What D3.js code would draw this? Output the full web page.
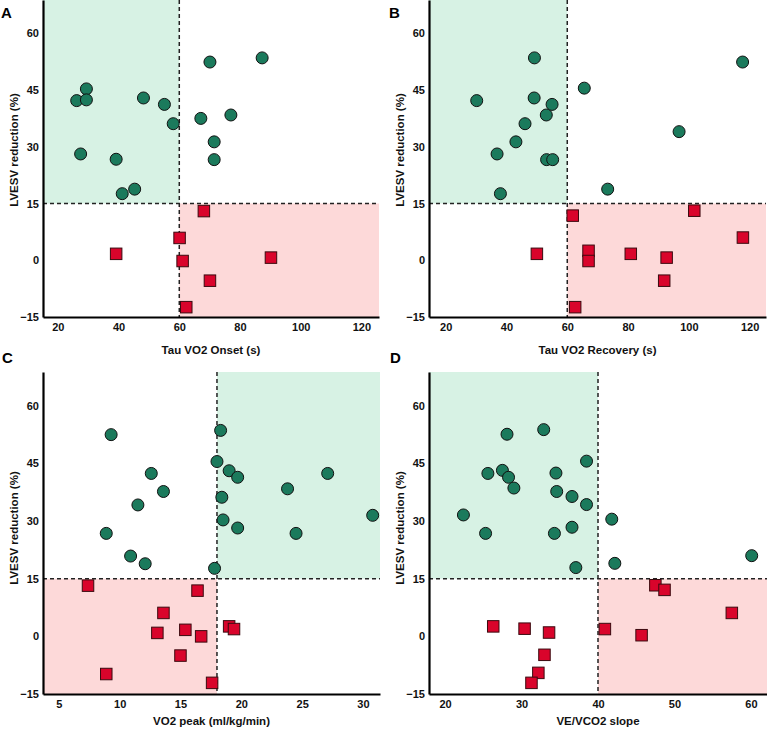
<!DOCTYPE html>
<html>
<head>
<meta charset="utf-8">
<script src="https://cdn.jsdelivr.net/npm/d3@7"></script>
<style>
  html, body { margin: 0; padding: 0; background: #fff; }
  svg { display: block; font-family: "Liberation Sans", Arial, sans-serif; }
</style>
</head>
<body>
<svg id="chart" width="767" height="730"></svg>
<script>
// ---------------- DATA ----------------
const yTicks = [-15, 0, 15, 30, 45, 60];
const yTitle = "LVESV reduction (%)";

// Panel A: Tau VO2 Onset
const aXTicks = [20, 40, 60, 80, 100, 120];
const aCircles = [[26.2,42.2],[29.4,45.3],[29.4,42.4],[27.5,28.1],[39.2,26.7],[41.2,17.6],[45.3,18.8],[48.2,42.9],[55.1,41.2],[58.0,36.1],[70.1,52.4],[87.3,53.5],[67.1,37.5],[77.0,38.4],[71.5,31.3],[71.5,26.6]];
const aSquares = [[39.2,1.7],[60.1,5.9],[61.1,-0.2],[68.1,13.0],[70.1,-5.4],[62.3,-12.4],[90.2,0.7]];

// Panel B: Tau VO2 Recovery
const bXTicks = [20, 40, 60, 80, 100, 120];
const bCircles = [[30.2,42.2],[36.9,28.1],[38.0,17.6],[43.1,31.3],[46.1,36.1],[49.2,53.5],[49.1,42.9],[53.1,38.4],[55.0,41.2],[53.2,26.6],[55.2,26.6],[65.6,45.5],[73.3,18.8],[96.8,34.0],[117.7,52.4]];
const bSquares = [[61.8,11.8],[50.0,1.7],[67.0,2.5],[67.0,-0.2],[80.9,1.7],[92.7,0.7],[91.9,-5.4],[62.6,-12.4],[101.8,13.1],[117.8,6.0]];

// Panel C: VO2 peak
const cXTicks = [5, 10, 15, 20, 25, 30];
const cCircles = [[9.3,52.5],[12.6,42.4],[13.6,37.7],[11.5,34.2],[8.9,26.8],[10.9,20.9],[12.1,18.9],[18.3,53.6],[18.0,45.5],[19.0,43.1],[19.7,41.4],[18.4,36.2],[18.5,30.3],[19.7,28.2],[23.8,38.4],[27.1,42.4],[24.5,26.8],[30.8,31.5],[17.8,17.7]];
const cSquares = [[7.4,13.2],[16.4,11.9],[13.6,6.1],[13.1,0.9],[15.4,1.7],[16.7,0.0],[15.0,-5.0],[8.9,-9.8],[17.6,-12.1],[19.0,2.6],[19.4,1.9]];

// Panel D: VE/VCO2 slope
const dXTicks = [20, 30, 40, 50, 60];
const dCircles = [[28.1,52.6],[32.9,53.8],[25.6,42.4],[27.5,43.2],[28.3,41.4],[29.0,38.6],[34.5,42.5],[34.6,37.7],[36.6,36.4],[38.5,45.6],[38.5,34.3],[22.4,31.6],[25.3,26.8],[34.3,26.8],[36.6,28.4],[37.1,17.9],[41.8,30.5],[42.2,19.0],[60.1,21.0]];
const dSquares = [[47.5,13.3],[48.7,12.1],[57.5,6.1],[40.9,1.9],[45.7,0.3],[26.3,2.6],[30.4,2.0],[33.6,1.0],[33.0,-4.8],[32.2,-9.5],[31.3,-12.1]];

const panels = [
  { label: "A", xTitle: "Tau VO2 Onset (s)", xTicks: aXTicks, circles: aCircles, squares: aSquares,
    xDomain: [15.1, 125.8], box: [43, 379, 0, 317], xCut: 60, green: "left", yTitleY: 150, xTitleDy: 37, labelX: 1, labelY: 18 },
  { label: "B", xTitle: "Tau VO2 Recovery (s)", xTicks: bXTicks, circles: bCircles, squares: bSquares,
    xDomain: [14.5, 125.4], box: [429, 766, 0, 317], xCut: 60, green: "left", yTitleY: 150, xTitleDy: 37, labelX: 389, labelY: 18 },
  { label: "C", xTitle: "VO2 peak (ml/kg/min)", xTicks: cXTicks, circles: cCircles, squares: cSquares,
    xDomain: [3.7, 31.4], box: [43, 380, 372, 694], xCut: 18, green: "right", yTitleY: 528, xTitleDy: 31, labelX: 2, labelY: 363 },
  { label: "D", xTitle: "VE/VCO2 slope", xTicks: dXTicks, circles: dCircles, squares: dSquares,
    xDomain: [17.9, 62.1], box: [429, 767, 372, 694], xCut: 40, green: "left", yTitleY: 528, xTitleDy: 31, labelX: 390, labelY: 363 }
];

const yDomain = [-15, 68.8];
const yCut = 15;

// ---------------- DRAW ----------------
const svg = d3.select("#chart");

panels.forEach(p => {
  const [x0, x1, y0, y1] = p.box;
  const x = d3.scaleLinear().domain(p.xDomain).range([x0, x1]);
  const y = d3.scaleLinear().domain(yDomain).range([y1, y0]);
  const g = svg.append("g");

  // shaded quadrants
  const greenX = p.green === "left" ? [p.xDomain[0], p.xCut] : [p.xCut, p.xDomain[1]];
  const pinkX = p.green === "left" ? [p.xCut, p.xDomain[1]] : [p.xDomain[0], p.xCut];
  g.append("rect")
    .attr("x", x(greenX[0])).attr("width", x(greenX[1]) - x(greenX[0]))
    .attr("y", y(yDomain[1])).attr("height", y(yCut) - y(yDomain[1]))
    .attr("fill", "#d7f2e4");
  g.append("rect")
    .attr("x", x(pinkX[0])).attr("width", x(pinkX[1]) - x(pinkX[0]))
    .attr("y", y(yCut)).attr("height", y(yDomain[0]) - y(yCut))
    .attr("fill", "#fdd9d9");

  // dashed reference lines
  g.append("line")
    .attr("x1", x(p.xCut)).attr("x2", x(p.xCut))
    .attr("y1", y(yDomain[1])).attr("y2", y(yDomain[0]))
    .attr("stroke", "#222").attr("stroke-width", 1.5).attr("stroke-dasharray", "4,3");
  g.append("line")
    .attr("x1", x(p.xDomain[0])).attr("x2", x(p.xDomain[1]))
    .attr("y1", y(yCut)).attr("y2", y(yCut))
    .attr("stroke", "#222").attr("stroke-width", 1.5).attr("stroke-dasharray", "4,3");

  // axes
  const yAxis = g.append("g").attr("transform", `translate(${x0},0)`)
    .call(d3.axisLeft(y).tickValues(yTicks).tickSize(0).tickPadding(4));
  const xAxis = g.append("g").attr("transform", `translate(0,${y1})`)
    .call(d3.axisBottom(x).tickValues(p.xTicks).tickSize(0).tickPadding(6));
  [xAxis, yAxis].forEach(a => {
    a.select(".domain").attr("stroke", "#000").attr("stroke-width", 2.2);
    a.selectAll("text").attr("font-size", 11).attr("font-weight", "bold").attr("fill", "#111")
      .attr("font-family", "Liberation Sans, Arial, sans-serif");
  });

  // points
  g.append("g").selectAll("circle").data(p.circles).join("circle")
    .attr("cx", d => x(d[0])).attr("cy", d => y(d[1])).attr("r", 6)
    .attr("fill", "#1b7a5c").attr("stroke", "#111").attr("stroke-width", 1);
  const s = 11.5;
  g.append("g").selectAll("rect").data(p.squares).join("rect")
    .attr("x", d => x(d[0]) - s / 2).attr("y", d => y(d[1]) - s / 2)
    .attr("width", s).attr("height", s)
    .attr("fill", "#d9042b").attr("stroke", "#3a0a0f").attr("stroke-width", 1);

  // titles
  g.append("text").attr("x", (x0 + x1) / 2).attr("y", y1 + p.xTitleDy)
    .attr("text-anchor", "middle").attr("font-size", 11.5).attr("font-weight", "bold")
    .attr("fill", "#111").text(p.xTitle);
  g.append("text")
    .attr("transform", `translate(${x0 - 25},${p.yTitleY}) rotate(-90)`)
    .attr("text-anchor", "middle").attr("font-size", 11.5).attr("font-weight", "bold")
    .attr("fill", "#111").text(yTitle);
  g.append("text").attr("x", p.labelX).attr("y", p.labelY)
    .attr("font-size", 15).attr("font-weight", "bold").attr("fill", "#000").text(p.label);
});
</script>
</body>
</html>
